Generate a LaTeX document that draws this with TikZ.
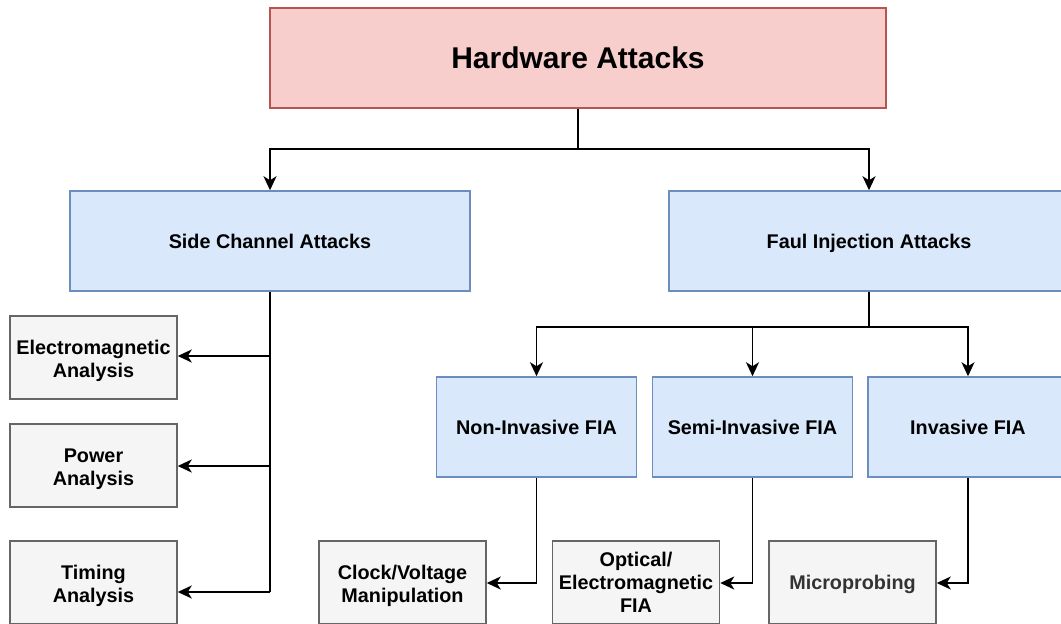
\documentclass[tikz,border=0pt]{standalone}
\usepackage{fontspec}
\setmainfont{Liberation Sans}
\usetikzlibrary{arrows.meta}
\definecolor{redfill}{HTML}{F8CECC}
\definecolor{redline}{HTML}{B85450}
\definecolor{bluefill}{HTML}{DAE8FC}
\definecolor{blueline}{HTML}{6C8EBF}
\definecolor{grayfill}{HTML}{F5F5F5}
\definecolor{grayline}{HTML}{666666}
\definecolor{graytext}{HTML}{333333}
\newcommand{\tallstrut}{\rule{0pt}{20.5pt}}
\tikzset{
  box/.style={draw, line width=1.5pt, inner sep=0pt, align=center, font=\bfseries},
  topbox/.style={box, fill=redfill, draw=redline, minimum width=616pt, minimum height=100pt, font=\bfseries\fontsize{30}{34}\selectfont},
  bluebox/.style={box, fill=bluefill, draw=blueline, minimum width=400pt, minimum height=100pt, text depth=0pt, font=\bfseries\fontsize{19.8}{23}\selectfont},
  midbox/.style={box, fill=bluefill, draw=blueline, minimum width=200pt, minimum height=100pt, font=\bfseries\fontsize{19.8}{23}\selectfont},
  graybox/.style={box, fill=grayfill, draw=grayline, minimum width=167pt, minimum height=83pt, font=\bfseries\fontsize{19.8}{23}\selectfont},
  conn/.style={line width=1.8pt, -{Stealth[length=14pt, width=13pt, inset=4pt]}},
  plain/.style={line width=1.8pt}
}
\begin{document}
\begin{tikzpicture}[x=1pt, y=-1pt]
\useasboundingbox (0,0) rectangle (1061,624);
\node[topbox] (hw) at (578,58) {Hardware Attacks};
\node[bluebox] (sca) at (270,241) {Side Channel Attacks};
\node[bluebox] (fia) at (869,241) {Faul Injection Attacks};
\node[graybox] (em) at (93.5,357.5) {\tallstrut Electromagnetic\\Analysis};
\node[graybox] (pa) at (93.5,465.5) {\tallstrut Power\\Analysis};
\node[graybox] (ta) at (93.5,582.5) {\tallstrut Timing\\Analysis};
\node[midbox] (ni) at (536.5,427) {Non-Invasive FIA};
\node[midbox] (si) at (752.5,427) {Semi-Invasive FIA};
\node[midbox] (inv) at (968,427) {Invasive FIA};
\node[graybox] (cv) at (402.5,582.5) {\tallstrut Clock/Voltage\\Manipulation};
\node[graybox] (oe) at (636,582.5) {Optical/\\Electromagnetic\\FIA};
\node[graybox, text=graytext, text depth=0pt] (mp) at (852.5,582.5) {Microprobing};
\coordinate (j0) at (578,149);
\draw[plain] (hw.south) -- (j0);
\draw[conn] (j0) -| (sca.north);
\draw[conn] (j0) -| (fia.north);
\coordinate (j1) at (869,327);
\draw[plain] (fia.south) -- (j1);
\draw[conn] (j1) -| (ni.north);
\draw[conn] (j1) -| (si.north);
\draw[conn] (j1) -| (inv.north);
\coordinate (s1) at (270,356);
\coordinate (s2) at (270,466);
\coordinate (s3) at (270,592);
\draw[plain] (sca.south) -- (s3);
\draw[conn] (s1) -- (em.east |- s1);
\draw[conn] (s2) -- (pa.east |- s2);
\draw[conn] (s3) -- (ta.east |- s3);
\draw[conn] (ni.south) |- (cv.east |- 0,583);
\draw[conn] (si.south) |- (oe.east |- 0,583);
\draw[conn] (inv.south) |- (mp.east |- 0,583);
\end{tikzpicture}
\end{document}
